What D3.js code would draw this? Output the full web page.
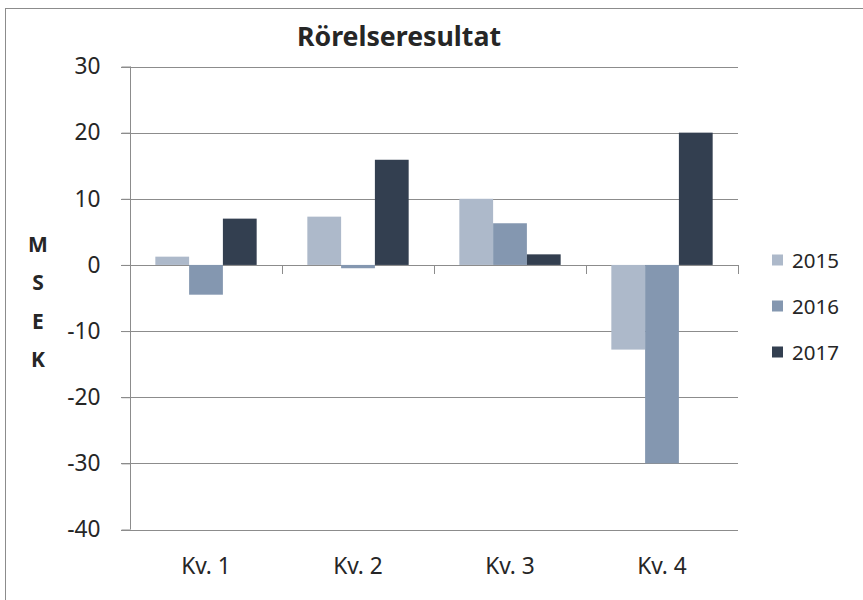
<!DOCTYPE html>
<html>
<head>
<meta charset="utf-8">
<script src="https://cdn.jsdelivr.net/npm/d3@7/dist/d3.min.js"></script>
<style>
  body { margin: 0; background: #fff; }
  svg text { font-family: "Noto Sans", sans-serif; fill: #262626; }
</style>
</head>
<body>
<svg id="chart" width="863" height="600"></svg>
<script>
const categories = ['Kv. 1', 'Kv. 2', 'Kv. 3', 'Kv. 4'];
const years = ['2015', '2016', '2017'];
const values2015 = [1.25, 7.3, 10.0, -12.8];
const values2016 = [-4.5, -0.5, 6.3, -30.0];
const values2017 = [7.0, 15.9, 1.6, 20.0];
const yTicks = [-40, -30, -20, -10, 0, 10, 20, 30];
const colors = ['#adb9ca', '#8497b0', '#333f50'];

const seriesValues = [values2015, values2016, values2017];
const rows = categories.map((c, i) => ({
  cat: c,
  vals: years.map((y, j) => ({ year: y, value: seriesValues[j][i] }))
}));

const svg = d3.select('#chart');

// chart area border
svg.append('rect')
  .attr('x', 5.5).attr('y', 8.5)
  .attr('width', 900).attr('height', 620)
  .attr('fill', 'none').attr('stroke', '#8c8c8c');

const x = d3.scaleBand().domain(categories).range([130, 738]);
const bw = x.bandwidth();
const xInner = d3.scaleBand().domain(years).range([bw / 6, bw - bw / 6]);
const y = d3.scaleLinear().domain([-40, 30]).range([529.5, 66.5]);

// gridlines
svg.append('g')
  .selectAll('line')
  .data(yTicks)
  .join('line')
  .attr('x1', 121).attr('x2', 738)
  .attr('y1', d => Math.round(y(d)) + 0.5)
  .attr('y2', d => Math.round(y(d)) + 0.5)
  .attr('stroke', '#8c8c8c');

// bars
svg.append('g')
  .selectAll('g')
  .data(rows)
  .join('g')
  .attr('transform', d => `translate(${x(d.cat)},0)`)
  .selectAll('rect')
  .data(d => d.vals)
  .join('rect')
  .attr('x', d => xInner(d.year))
  .attr('width', xInner.bandwidth())
  .attr('y', d => y(Math.max(0, d.value)))
  .attr('height', d => Math.abs(y(d.value) - y(0)))
  .attr('fill', (d, i) => colors[i]);

// y axis (plain hyphen for negatives, like the original)
const yAxis = d3.axisLeft(y).tickValues(yTicks).tickSize(9).tickPadding(21)
  .tickFormat(d => String(d));
const gy = svg.append('g')
  .attr('transform', 'translate(130.5,0)')
  .call(yAxis);
gy.selectAll('line, path').attr('stroke', '#8c8c8c');
gy.select('.domain').attr('d', `M0,${y(30)}V${y(-40)}`);
gy.selectAll('text')
  .style('font-size', '22.7px')
  .attr('fill', '#262626');

// category axis along zero with ticks between groups
const bounds = categories.map(c => x(c) + bw);
svg.append('g')
  .selectAll('line')
  .data(bounds)
  .join('line')
  .attr('x1', d => Math.round(d) + 0.5).attr('x2', d => Math.round(d) + 0.5)
  .attr('y1', Math.round(y(0))).attr('y2', Math.round(y(0)) + 9)
  .attr('stroke', '#8c8c8c');

// category labels
const xAxis = d3.axisBottom(x).tickSize(0).tickPadding(0);
const gx = svg.append('g')
  .attr('transform', 'translate(0,574)')
  .call(xAxis);
gx.select('.domain').remove();
gx.selectAll('text')
  .attr('dy', 0).attr('y', 0)
  .style('font-size', '22.7px')
  .attr('fill', '#262626');

// title
svg.append('text')
  .attr('x', 399).attr('y', 46)
  .attr('text-anchor', 'middle')
  .style('font-size', '26.7px')
  .style('font-weight', 'bold')
  .attr('fill', '#000')
  .text('Rörelseresultat');

// y axis title, stacked letters
const msek = ['M', 'S', 'E', 'K'];
svg.append('g')
  .selectAll('text')
  .data(msek)
  .join('text')
  .attr('x', 38)
  .attr('y', (d, i) => 251.5 + i * 38.5)
  .attr('text-anchor', 'middle')
  .style('font-size', '21px')
  .style('font-weight', 'bold')
  .attr('fill', '#000')
  .text(d => d);

// legend
const legend = svg.append('g')
  .selectAll('g')
  .data(years)
  .join('g')
  .attr('transform', (d, i) => `translate(772,${260 + i * 46})`);
legend.append('rect')
  .attr('x', 0).attr('y', -5.5)
  .attr('width', 11).attr('height', 11)
  .attr('fill', (d, i) => colors[i]);
legend.append('text')
  .attr('x', 20).attr('y', 7.5)
  .style('font-size', '20.5px')
  .attr('fill', '#262626')
  .text(d => d);
</script>
</body>
</html>
